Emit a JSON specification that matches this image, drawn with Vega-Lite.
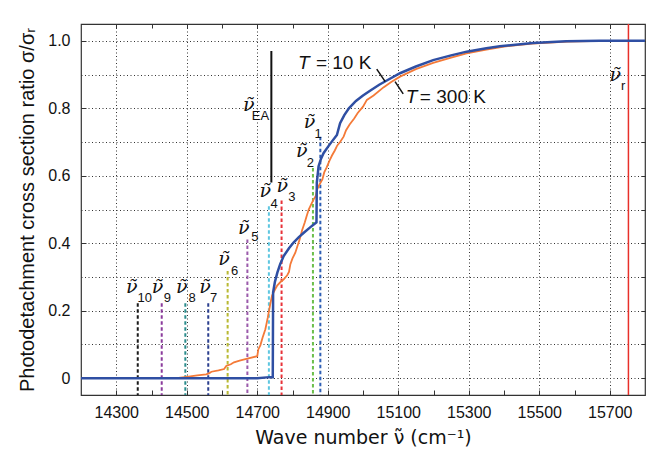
{
  "$schema": "https://vega.github.io/schema/vega-lite/v6.json",
  "width": 564,
  "height": 371,
  "autosize": {"type": "none"},
  "padding": {"left": 81, "top": 24, "right": 12, "bottom": 58},
  "config": {"view": {"stroke": "#333", "strokeWidth": 1.2}, "font": "Liberation Sans"},
  "datasets": {
    "orange": [
      {"v": 14200, "s": 0}, {"v": 14470, "s": 0}, {"v": 14500, "s": 0.004}, {"v": 14530, "s": 0.008},
      {"v": 14555, "s": 0.011}, {"v": 14563, "s": 0.014}, {"v": 14570, "s": 0.019}, {"v": 14590, "s": 0.023},
      {"v": 14606, "s": 0.027}, {"v": 14612, "s": 0.036}, {"v": 14625, "s": 0.041}, {"v": 14634, "s": 0.047},
      {"v": 14650, "s": 0.052}, {"v": 14672, "s": 0.058}, {"v": 14700, "s": 0.065}, {"v": 14703, "s": 0.085},
      {"v": 14709, "s": 0.098}, {"v": 14715, "s": 0.12}, {"v": 14723, "s": 0.145}, {"v": 14730, "s": 0.18},
      {"v": 14737, "s": 0.22}, {"v": 14742, "s": 0.245}, {"v": 14750, "s": 0.262}, {"v": 14757, "s": 0.275},
      {"v": 14766, "s": 0.285}, {"v": 14775, "s": 0.293}, {"v": 14785, "s": 0.305}, {"v": 14790, "s": 0.315},
      {"v": 14794, "s": 0.338}, {"v": 14800, "s": 0.355}, {"v": 14808, "s": 0.372}, {"v": 14815, "s": 0.395},
      {"v": 14820, "s": 0.41}, {"v": 14827, "s": 0.438}, {"v": 14835, "s": 0.462}, {"v": 14840, "s": 0.48},
      {"v": 14846, "s": 0.5}, {"v": 14853, "s": 0.515}, {"v": 14860, "s": 0.53}, {"v": 14866, "s": 0.54},
      {"v": 14870, "s": 0.56}, {"v": 14877, "s": 0.575}, {"v": 14885, "s": 0.59}, {"v": 14890, "s": 0.61},
      {"v": 14897, "s": 0.625}, {"v": 14905, "s": 0.645}, {"v": 14912, "s": 0.66}, {"v": 14920, "s": 0.675},
      {"v": 14927, "s": 0.69}, {"v": 14935, "s": 0.7}, {"v": 14945, "s": 0.716}, {"v": 14952, "s": 0.735},
      {"v": 14962, "s": 0.752}, {"v": 14975, "s": 0.77}, {"v": 14985, "s": 0.786}, {"v": 15000, "s": 0.805},
      {"v": 15011, "s": 0.825}, {"v": 15030, "s": 0.838}, {"v": 15058, "s": 0.862}, {"v": 15080, "s": 0.878},
      {"v": 15105, "s": 0.894}, {"v": 15150, "s": 0.916}, {"v": 15199, "s": 0.935}, {"v": 15250, "s": 0.95},
      {"v": 15294, "s": 0.963}, {"v": 15350, "s": 0.974}, {"v": 15400, "s": 0.983}, {"v": 15480, "s": 0.992},
      {"v": 15580, "s": 0.998}, {"v": 15680, "s": 1.0}, {"v": 15800, "s": 1.0}
    ],
    "blue": [
      {"v": 14200, "s": 0}, {"v": 14700, "s": 0}, {"v": 14735, "s": 0.003}, {"v": 14744, "s": 0.003},
      {"v": 14745, "s": 0.254}, {"v": 14750, "s": 0.285}, {"v": 14757, "s": 0.313}, {"v": 14765, "s": 0.338},
      {"v": 14775, "s": 0.362}, {"v": 14790, "s": 0.385}, {"v": 14803, "s": 0.402}, {"v": 14818, "s": 0.418},
      {"v": 14832, "s": 0.431}, {"v": 14850, "s": 0.447}, {"v": 14868, "s": 0.462}, {"v": 14869, "s": 0.58},
      {"v": 14874, "s": 0.628}, {"v": 14880, "s": 0.648}, {"v": 14888, "s": 0.667}, {"v": 14900, "s": 0.685},
      {"v": 14912, "s": 0.702}, {"v": 14926, "s": 0.721}, {"v": 14935, "s": 0.756}, {"v": 14947, "s": 0.78},
      {"v": 14960, "s": 0.8}, {"v": 14980, "s": 0.822}, {"v": 15000, "s": 0.838}, {"v": 15020, "s": 0.852},
      {"v": 15046, "s": 0.87}, {"v": 15070, "s": 0.884}, {"v": 15105, "s": 0.904}, {"v": 15150, "s": 0.924},
      {"v": 15199, "s": 0.943}, {"v": 15250, "s": 0.957}, {"v": 15294, "s": 0.968}, {"v": 15350, "s": 0.978},
      {"v": 15388, "s": 0.984}, {"v": 15482, "s": 0.994}, {"v": 15576, "s": 0.999}, {"v": 15671, "s": 1.0},
      {"v": 15800, "s": 1.0}
    ],
    "levels": [
      {"n": "ν10", "v": 14361, "s": 0.222}, {"n": "ν9", "v": 14429, "s": 0.222},
      {"n": "ν8", "v": 14496, "s": 0.222}, {"n": "ν7", "v": 14561, "s": 0.222},
      {"n": "ν6", "v": 14616, "s": 0.318}, {"n": "ν5", "v": 14672, "s": 0.411},
      {"n": "ν4", "v": 14733, "s": 0.51}, {"n": "ν3", "v": 14769, "s": 0.527},
      {"n": "ν2", "v": 14858, "s": 0.623}, {"n": "ν1", "v": 14879, "s": 0.716}
    ],
    "symbols": [
      {"v": 14344, "s": 0.269}, {"v": 14417, "s": 0.27}, {"v": 14486, "s": 0.27}, {"v": 14552, "s": 0.27},
      {"v": 14606, "s": 0.352}, {"v": 14662, "s": 0.446}, {"v": 14723, "s": 0.554}, {"v": 14771, "s": 0.569},
      {"v": 14826, "s": 0.672}, {"v": 14848, "s": 0.758}, {"v": 14676, "s": 0.81}, {"v": 15716, "s": 0.899}
    ],
    "subs": [
      {"t": "10", "v": 14381, "s": 0.237}, {"t": "9", "v": 14445, "s": 0.237}, {"t": "8", "v": 14515, "s": 0.237},
      {"t": "7", "v": 14576, "s": 0.237}, {"t": "6", "v": 14636, "s": 0.318}, {"t": "5", "v": 14693, "s": 0.418},
      {"t": "4", "v": 14748, "s": 0.517}, {"t": "3", "v": 14798, "s": 0.536}, {"t": "2", "v": 14851, "s": 0.637},
      {"t": "1", "v": 14873, "s": 0.725}, {"t": "EA", "v": 14709, "s": 0.778}, {"t": "r", "v": 15738, "s": 0.866}
    ],
    "tlabels": [
      {"v": 14832, "s": 0.935}, {"v": 15138, "s": 0.835}
    ],
    "tvalues": [
      {"t": "= 10 K", "v": 14945, "s": 0.935}, {"t": "= 300 K", "v": 15255, "s": 0.835}
    ],
    "leaders": [
      {"v": 15039, "s": 0.916, "v2": 15063, "s2": 0.879},
      {"v": 15091, "s": 0.879, "v2": 15114, "s2": 0.843}
    ],
    "ea": [{"v": 14740, "s": 0.58, "s2": 0.97}],
    "ref": [{"v": 15753}]
  },
  "layer": [
    {
      "data": {"name": "levels"},
      "mark": {"type": "rule", "strokeDash": [3.5, 2.5], "strokeWidth": 2},
      "encoding": {
        "x": {"field": "v", "type": "quantitative", "scale": {"domain": [14200, 15800], "nice": false, "zero": false}, "axis": null},
        "y": {"field": "s", "type": "quantitative", "scale": {"domain": [-0.05, 1.05], "nice": false, "zero": false}, "axis": null},
        "y2": {"datum": -0.05},
        "color": {"field": "n", "type": "nominal", "legend": null,
          "scale": {"domain": ["ν10", "ν9", "ν8", "ν7", "ν6", "ν5", "ν4", "ν3", "ν2", "ν1"],
                    "range": ["#1a1a1a", "#8b3b9c", "#2a8c8c", "#2b3f8e", "#b9b933", "#9b5bab", "#5cc6e0", "#e8333a", "#6cbf4b", "#2f5fb5"]}}
      }
    },
    {
      "data": {"name": "ref"},
      "mark": {"type": "rule", "color": "#e8302a", "strokeWidth": 1.5},
      "encoding": {
        "x": {"field": "v", "type": "quantitative", "scale": {"domain": [14200, 15800], "nice": false, "zero": false}, "axis": null}
      }
    },
    {
      "data": {"name": "orange"},
      "mark": {"type": "line", "color": "#f47a38", "strokeWidth": 1.8},
      "encoding": {
        "x": {"field": "v", "type": "quantitative", "scale": {"domain": [14200, 15800], "nice": false, "zero": false},
          "axis": {"orient": "bottom", "values": [14300, 14400, 14500, 14600, 14700, 14800, 14900, 15000, 15100, 15200, 15300, 15400, 15500, 15600, 15700],
            "labelExpr": "datum.value % 200 == 100 ? format(datum.value, 'd') : ''",
            "grid": true, "gridDash": [1, 2.5], "gridColor": "#333", "gridWidth": 1,
            "gridOpacity": {"condition": {"test": "datum.value % 200 == 100", "value": 1}, "value": 0},
            "tickSize": -5, "tickColor": "#333", "domain": false,
            "labelFont": "Liberation Sans", "labelFontSize": 16, "labelColor": "#111", "labelPadding": 14,
            "title": "Wave number ν̃  (cm⁻¹)", "titleFont": "DejaVu Sans", "titleFontSize": 19, "titleFontWeight": "normal", "titleColor": "#111", "titlePadding": 8}},
        "y": {"field": "s", "type": "quantitative", "scale": {"domain": [-0.05, 1.05], "nice": false, "zero": false},
          "axis": {"orient": "left", "values": [0, 0.1, 0.2, 0.3, 0.4, 0.5, 0.6, 0.7, 0.8, 0.9, 1.0],
            "labelExpr": "round(datum.value * 10) % 2 == 0 ? (datum.value == 0 ? '0' : format(datum.value, '.1f')) : ''",
            "grid": true, "gridDash": [1, 2.5], "gridColor": "#333", "gridWidth": 1,
            "tickSize": -5, "tickColor": "#333",
            "tickOpacity": {"condition": {"test": "round(datum.value * 10) % 2 == 0", "value": 1}, "value": 0},
            "domain": false,
            "labelFont": "Liberation Sans", "labelFontSize": 16, "labelColor": "#111", "labelPadding": 16,
            "title": "Photodetachment cross section ratio σ/σᵣ", "titleFont": "Liberation Sans", "titleFontSize": 20, "titleFontWeight": "normal", "titleColor": "#111", "titlePadding": 10}}
      }
    },
    {
      "data": {"name": "blue"},
      "mark": {"type": "line", "color": "#2f4fa3", "strokeWidth": 2.5},
      "encoding": {
        "x": {"field": "v", "type": "quantitative", "scale": {"domain": [14200, 15800], "nice": false, "zero": false},
          "axis": {"orient": "top", "values": [14300, 14400, 14500, 14600, 14700, 14800, 14900, 15000, 15100, 15200, 15300, 15400, 15500, 15600, 15700],
            "labels": false, "grid": false, "tickSize": -4, "tickColor": "#333", "domain": false, "title": null}},
        "y": {"field": "s", "type": "quantitative", "scale": {"domain": [-0.05, 1.05], "nice": false, "zero": false},
          "axis": {"orient": "right", "values": [0, 0.1, 0.2, 0.3, 0.4, 0.5, 0.6, 0.7, 0.8, 0.9, 1.0],
            "labels": false, "grid": false, "tickSize": -4, "tickColor": "#333", "domain": false, "title": null}}
      }
    },
    {
      "data": {"name": "ea"},
      "mark": {"type": "rule", "color": "#111", "strokeWidth": 2},
      "encoding": {
        "x": {"field": "v", "type": "quantitative", "scale": {"domain": [14200, 15800], "nice": false, "zero": false}, "axis": null},
        "y": {"field": "s", "type": "quantitative", "scale": {"domain": [-0.05, 1.05], "nice": false, "zero": false}, "axis": null},
        "y2": {"field": "s2"}
      }
    },
    {
      "data": {"name": "leaders"},
      "mark": {"type": "rule", "color": "#111", "strokeWidth": 1.5},
      "encoding": {
        "x": {"field": "v", "type": "quantitative", "scale": {"domain": [14200, 15800], "nice": false, "zero": false}, "axis": null},
        "y": {"field": "s", "type": "quantitative", "scale": {"domain": [-0.05, 1.05], "nice": false, "zero": false}, "axis": null},
        "x2": {"field": "v2"},
        "y2": {"field": "s2"}
      }
    },
    {
      "data": {"name": "symbols"},
      "mark": {"type": "text", "text": "ν̃", "font": "DejaVu Serif", "fontStyle": "italic", "fontSize": 19, "color": "#111", "align": "center", "baseline": "middle"},
      "encoding": {
        "x": {"field": "v", "type": "quantitative", "scale": {"domain": [14200, 15800], "nice": false, "zero": false}, "axis": null},
        "y": {"field": "s", "type": "quantitative", "scale": {"domain": [-0.05, 1.05], "nice": false, "zero": false}, "axis": null}
      }
    },
    {
      "data": {"name": "subs"},
      "mark": {"type": "text", "font": "Liberation Sans", "fontSize": 13, "color": "#111", "align": "center", "baseline": "middle"},
      "encoding": {
        "x": {"field": "v", "type": "quantitative", "scale": {"domain": [14200, 15800], "nice": false, "zero": false}, "axis": null},
        "y": {"field": "s", "type": "quantitative", "scale": {"domain": [-0.05, 1.05], "nice": false, "zero": false}, "axis": null},
        "text": {"field": "t"}
      }
    },
    {
      "data": {"name": "tlabels"},
      "mark": {"type": "text", "text": "T", "font": "Liberation Sans", "fontStyle": "italic", "fontSize": 19, "color": "#111", "align": "center", "baseline": "middle"},
      "encoding": {
        "x": {"field": "v", "type": "quantitative", "scale": {"domain": [14200, 15800], "nice": false, "zero": false}, "axis": null},
        "y": {"field": "s", "type": "quantitative", "scale": {"domain": [-0.05, 1.05], "nice": false, "zero": false}, "axis": null}
      }
    },
    {
      "data": {"name": "tvalues"},
      "mark": {"type": "text", "font": "Liberation Sans", "fontSize": 19, "color": "#111", "align": "center", "baseline": "middle"},
      "encoding": {
        "x": {"field": "v", "type": "quantitative", "scale": {"domain": [14200, 15800], "nice": false, "zero": false}, "axis": null},
        "y": {"field": "s", "type": "quantitative", "scale": {"domain": [-0.05, 1.05], "nice": false, "zero": false}, "axis": null},
        "text": {"field": "t"}
      }
    }
  ],
  "resolve": {"axis": {"x": "independent", "y": "independent"}}
}
